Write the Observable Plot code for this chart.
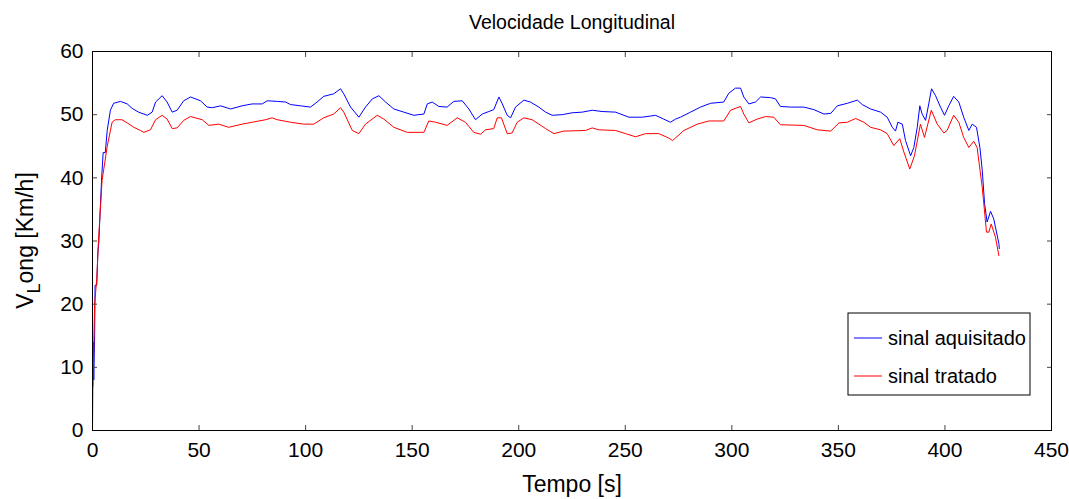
<!DOCTYPE html>
<html>
<head>
<meta charset="utf-8">
<script src="https://cdn.jsdelivr.net/npm/d3@7"></script>
<script src="https://cdn.jsdelivr.net/npm/@observablehq/plot@0.6"></script>
<style>
  html, body { margin: 0; padding: 0; background: #ffffff; }
  #chart svg { display: block; }
</style>
</head>
<body>
<div id="chart"></div>
<script>
// ---- Data ----
const titleText = "Velocidade Longitudinal";
const xLabelText = "Tempo [s]";
const seriesNames = ["sinal aquisitado", "sinal tratado"];
const seriesColors = ["#0000ff", "#ff0000"];
const xTicks = [0, 50, 100, 150, 200, 250, 300, 350, 400, 450];
const yTicks = [0, 10, 20, 30, 40, 50, 60];

// sinal aquisitado (time [s])
const tBlue = [0, 0.3, 0.6, 1.0, 1.2, 2.0, 2.5, 3.0, 3.5, 4.3, 5.0, 6.0, 6.9, 8.4, 9.9, 13.1, 16.3, 18.6, 21.6, 25.7,
  28.0, 29.6, 32.7, 35.0, 37.4, 39.7, 42.8, 46.0, 50.7, 53.8, 56.2, 60.1, 64.8, 70.2, 74.9, 79.6, 82.0, 86.7, 90.6, 92.9,
  97.6, 102.3, 105.4, 108.5, 113.2, 116.4, 117.9, 121.1, 125.0, 128.1, 131.3, 134.4, 137.5, 141.4, 146.1, 150.8, 155.5, 157.1, 159.4, 162.5,
  166.4, 169.5, 173.5, 176.6, 179.7, 182.9, 186.0, 188.3, 190.7, 192.3, 194.6, 196.2, 198.5, 202.4, 205.5, 209.4, 212.6, 215.7, 220.4, 225.1,
  229.8, 234.5, 239.1, 245.4, 251.7, 258.0, 264.2, 268.0, 271.2, 273.6, 275.9, 280.6, 285.3, 290.0, 296.2, 298.6, 301.7, 304.1, 305.6, 308.0,
  311.1, 313.5, 318.2, 320.5, 322.8, 327.5, 333.8, 338.5, 343.2, 346.4, 349.5, 354.2, 358.9, 361.2, 365.1, 369.8, 372.9, 375.3, 376.8, 377.9,
  380.0, 381.5, 383.9, 385.4, 387.0, 388.2, 389.3, 390.9, 392.4, 393.7, 395.6, 397.9, 399.8, 401.8, 404.1, 406.5, 408.8, 411.2, 412.8, 414.8,
  416.4, 417.5, 418.6, 419.8, 421.4, 422.9, 423.7, 425.3, 425.5];
// sinal aquisitado (velocity [Km/h])
const vBlue = [0, 14, 8, 15, 23, 23, 28, 30, 34, 40, 44, 44, 47.5, 50.7, 51.8, 52.1, 51.7, 51.0, 50.4, 49.9,
  50.4, 52.0, 53.0, 52.0, 50.4, 50.7, 52.2, 52.8, 52.2, 51.2, 51.1, 51.4, 50.9, 51.4, 51.7, 51.7, 52.2, 52.1, 52.0, 51.6,
  51.4, 51.2, 52.0, 52.9, 53.3, 54.1, 53.3, 51.2, 49.6, 51.2, 52.5, 53.0, 52.0, 50.9, 50.4, 49.9, 50.1, 51.7, 52.0, 51.3,
  51.2, 52.1, 52.2, 50.9, 49.2, 50.1, 50.5, 50.8, 52.8, 51.7, 49.9, 49.5, 51.2, 52.3, 52.0, 51.2, 50.4, 49.9, 50.0, 50.3,
  50.4, 50.7, 50.5, 50.4, 49.6, 49.6, 49.9, 49.3, 48.8, 49.3, 49.6, 50.4, 51.2, 51.8, 52.0, 53.4, 54.2, 54.2, 52.8, 51.7,
  52.0, 52.8, 52.7, 52.5, 51.3, 51.2, 51.2, 50.8, 50.1, 50.2, 51.4, 51.8, 52.3, 51.6, 50.9, 50.4, 49.6, 48.0, 47.4, 48.8,
  48.5, 45.9, 43.5, 44.8, 48.0, 51.4, 50.1, 49.1, 51.7, 54.1, 53.0, 51.2, 49.9, 51.4, 52.9, 52.0, 49.6, 47.5, 48.5, 48.0,
  44.8, 41.2, 35.9, 33.0, 34.7, 33.5, 32.2, 29.6, 28.8];

// sinal tratado (time [s])
const tRed = [0.2, 1.0, 2.0, 2.8, 4.5, 6.9, 9.2, 10.7, 13.8, 16.3, 19.4, 22.5, 24.1, 27.2, 29.6, 32.7, 35.0, 37.4, 39.7, 42.8,
  46.0, 51.5, 54.6, 59.2, 63.9, 70.2, 74.9, 81.2, 84.3, 86.7, 92.9, 99.2, 103.8, 108.5, 113.2, 116.4, 117.9, 121.9, 125.0, 128.1,
  133.6, 136.7, 141.4, 147.7, 155.5, 157.8, 161.0, 166.4, 171.1, 175.0, 178.9, 182.1, 184.4, 188.3, 189.9, 191.9, 194.6, 196.9, 199.3, 202.4,
  206.3, 212.6, 216.5, 221.2, 231.3, 234.5, 237.6, 245.4, 250.1, 254.8, 259.5, 265.7, 270.4, 272.2, 277.5, 283.8, 289.2, 296.2, 299.4, 304.1,
  305.6, 308.0, 311.9, 315.8, 319.7, 322.8, 333.8, 340.1, 346.4, 350.3, 354.2, 358.1, 362.0, 365.1, 369.8, 372.9, 376.0, 378.8, 380.7, 383.5,
  385.7, 388.5, 390.4, 393.6, 396.4, 399.5, 401.0, 404.1, 406.5, 408.8, 411.2, 413.5, 415.1, 417.5, 419.5, 420.6, 421.7, 423.7, 425.3];
// sinal tratado (velocity [Km/h])
const vRed = [7, 20, 24, 30, 39.6, 45.0, 48.8, 49.2, 49.2, 48.7, 48.0, 47.5, 47.2, 47.6, 49.2, 49.9, 49.3, 47.8, 47.9, 49.1,
  49.7, 49.2, 48.3, 48.5, 48.0, 48.5, 48.8, 49.2, 49.5, 49.2, 48.8, 48.5, 48.5, 49.5, 50.1, 51.1, 50.4, 47.5, 47.0, 48.5,
  49.9, 49.3, 48.0, 47.2, 47.2, 49.0, 48.8, 48.3, 49.5, 48.8, 47.2, 46.9, 47.6, 47.8, 49.5, 49.5, 47.0, 47.1, 48.8, 49.5,
  49.2, 47.8, 47.0, 47.4, 47.5, 47.9, 47.6, 47.5, 47.0, 46.5, 47.0, 47.0, 46.3, 45.9, 47.5, 48.5, 49.0, 49.0, 50.7, 51.3,
  50.1, 48.7, 49.3, 49.7, 49.6, 48.4, 48.3, 47.6, 47.4, 48.7, 48.8, 49.4, 48.8, 48.0, 47.6, 47.0, 45.1, 46.2, 44.1, 41.4,
  43.5, 48.5, 46.4, 50.7, 48.5, 47.1, 47.5, 49.9, 48.8, 46.4, 44.8, 45.8, 44.8, 38.5, 31.4, 31.4, 32.7, 30.6, 27.7];

// ---- Build tables ----
const blue = tBlue.map((t, i) => ({t, v: vBlue[i]}));
const red = tRed.map((t, i) => ({t, v: vRed[i]}));

const W = 1069, H = 499;
const mL = 92, mR = 18, mT = 51, mB = 69;
const font = "'Liberation Sans', Arial, Helvetica, sans-serif";

const chart = Plot.plot({
  width: W,
  height: H,
  marginLeft: mL,
  marginRight: mR,
  marginTop: mT,
  marginBottom: mB,
  style: {fontFamily: font, background: "#ffffff", color: "#000000", overflow: "visible"},
  x: {domain: [0, 450], label: null},
  y: {domain: [0, 60], label: null},
  marks: [
    Plot.line(blue, {x: "t", y: "v", stroke: seriesColors[0], strokeWidth: 1}),
    Plot.line(red, {x: "t", y: "v", stroke: seriesColors[1], strokeWidth: 1}),
    // inward ticks on all four sides
    Plot.axisX(xTicks, {anchor: "bottom", tickSize: -5, tickPadding: 17, fontSize: 21, label: null, stroke: "#444"}),
    Plot.axisX(xTicks, {anchor: "top", tickSize: -5, tickFormat: () => "", label: null, stroke: "#444"}),
    Plot.axisY(yTicks, {anchor: "left", tickSize: -5, tickPadding: 14, fontSize: 21, label: null, stroke: "#444"}),
    Plot.axisY(yTicks, {anchor: "right", tickSize: -5, tickFormat: () => "", label: null, stroke: "#444"}),
    Plot.frame({stroke: "#000000", strokeWidth: 1}),
    Plot.text([titleText], {frameAnchor: "top", lineAnchor: "middle", dy: -29, fontSize: 19.5, fill: "#000"}),
    Plot.text([xLabelText], {frameAnchor: "bottom", lineAnchor: "middle", dy: 54, fontSize: 23, fill: "#000"})
  ]
});

document.getElementById("chart").appendChild(chart);

// ---- Y label with TeX-like subscript ----
const svg = d3.select(chart);
const yl = svg.append("text")
  .attr("transform", `translate(33,${(mT + (H - mB)) / 2}) rotate(-90)`)
  .attr("text-anchor", "middle")
  .attr("font-family", font)
  .attr("font-size", 23)
  .attr("fill", "#000");
yl.append("tspan").text("V");
yl.append("tspan").attr("font-size", 18).attr("dy", 7).text("L");
yl.append("tspan").attr("dy", -7).text("ong [Km/h]");

// ---- Legend box ----
const lg = svg.append("g").attr("font-family", font).attr("font-size", 20).attr("text-anchor", "start");
const lx = 848, ly = 313, lw = 182, lh = 82;
lg.append("rect").attr("x", lx).attr("y", ly).attr("width", lw).attr("height", lh)
  .attr("fill", "#fff").attr("stroke", "#000").attr("stroke-width", 1);
seriesNames.forEach((name, i) => {
  const cy = ly + 25 + i * 38;
  lg.append("line").attr("x1", lx + 6).attr("x2", lx + 34).attr("y1", cy).attr("y2", cy)
    .attr("stroke", seriesColors[i]).attr("stroke-width", 1);
  lg.append("text").attr("x", lx + 40).attr("y", cy).attr("dy", "0.35em")
    .attr("text-anchor", "start").attr("fill", "#000").text(name);
});
</script>
</body>
</html>
